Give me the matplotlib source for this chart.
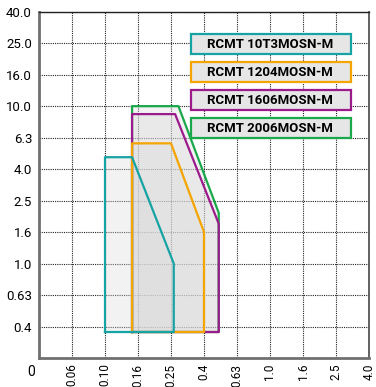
import numpy as np
import matplotlib
matplotlib.use("Agg")
import matplotlib.pyplot as plt
from matplotlib.patches import Rectangle

plt.rcParams['font.family'] = ['Roboto', 'DejaVu Sans']

# axis tick values (evenly spaced on the chart)
x_ticks = [0, 0.06, 0.10, 0.16, 0.25, 0.4, 0.63, 1.0, 1.6, 2.5, 4.0]
y_ticks = [0, 0.4, 0.63, 1.0, 1.6, 2.5, 4.0, 6.3, 10.0, 16.0, 25.0, 40.0]
x_labels = ["0.06", "0.10", "0.16", "0.25", "0.4", "0.63", "1.0", "1.6", "2.5", "4.0"]
y_labels = ["0.4", "0.63", "1.0", "1.6", "2.5", "4.0", "6.3", "10.0", "16.0", "25.0", "40.0"]

# application areas: feed f (x) vs depth ap (y)
names = ["RCMT 10T3MOSN-M", "RCMT 1204MOSN-M", "RCMT 1606MOSN-M", "RCMT 2006MOSN-M"]
colors = ["#16a3a3", "#f5a400", "#9b1b8c", "#19a84a"]
f_10T3 = [0.10, 0.10, 0.147, 0.26, 0.26]
ap_10T3 = [0.33, 4.75, 4.75, 1.0, 0.33]
f_1204 = [0.147, 0.147, 0.25, 0.40, 0.40]
ap_1204 = [0.33, 5.8, 5.8, 1.6, 0.33]
f_1606 = [0.147, 0.147, 0.265, 0.49, 0.49]
ap_1606 = [0.33, 8.9, 8.9, 1.8, 0.33]
f_2006 = [0.147, 0.147, 0.278, 0.49, 0.49]
ap_2006 = [0.33, 10.0, 10.0, 2.1, 0.33]


def make_scale(ticks):
    t = np.array(ticks[1:], float)
    lt = np.log(t)
    idx = np.arange(1, len(ticks), dtype=float)

    def fwd(v):
        v = np.asarray(v, float)
        lv = np.log(np.maximum(v, 1e-12))
        return np.where(v >= t[0], np.interp(lv, lt, idx), v / t[0])

    def inv(p):
        p = np.asarray(p, float)
        return np.where(p >= 1, np.exp(np.interp(p, idx, lt)), p * t[0])
    return fwd, inv


fig = plt.figure(figsize=(3.76, 3.87), dpi=100)
ax = fig.add_axes([39 / 376, 29 / 387, 330 / 376, 346.3 / 387])
ax.set_xscale('function', functions=make_scale(x_ticks))
ax.set_yscale('function', functions=make_scale(y_ticks))
ax.set_xlim(0, 4.0)
ax.set_ylim(0, 40.0)

ax.set_xticks(x_ticks[1:])
ax.set_xticklabels(x_labels, rotation=90, fontsize=8.5)
ax.set_yticks(y_ticks[1:])
ax.set_yticklabels(y_labels, fontsize=9.5)
ax.minorticks_off()
ax.tick_params(length=0)
ax.tick_params(axis='x', pad=4)
ax.tick_params(axis='y', pad=5)
ax.grid(True, color='#222222', linestyle=(0, (1, 1)), linewidth=0.8, zorder=0)
ax.set_axisbelow(True)

for s in ['left', 'bottom']:
    ax.spines[s].set_color('#707070')
    ax.spines[s].set_linewidth(2)
ax.spines['top'].set_color('#222222')
ax.spines['top'].set_linewidth(1)
ax.spines['right'].set_color('#555555')
ax.spines['right'].set_linewidth(1.3)

polys = [(f_10T3, ap_10T3), (f_1204, ap_1204), (f_1606, ap_1606), (f_2006, ap_2006)]
for i in [3, 2, 1, 0]:
    fx, ay = polys[i]
    ax.fill(fx, ay, facecolor='#dadada', alpha=0.35, edgecolor='none', zorder=2)
for i in [3, 2, 1, 0]:
    fx, ay = polys[i]
    ax.plot(fx + fx[:1], ay + ay[:1], color=colors[i], linewidth=1.6, zorder=3)

# origin label
fig.text(31 / 376, 1 - 372 / 387, "0", ha='center', va='center', fontsize=10)

# legend boxes
for i, name in enumerate(names):
    top = 33.5 + i * 28
    fig.patches.append(Rectangle((190.5 / 376, 1 - (top + 20.5) / 387), 160 / 376, 20.5 / 387,
                                 transform=fig.transFigure, facecolor='#e6e6e6',
                                 edgecolor=colors[i], linewidth=1.6, zorder=5))
    fig.text(270 / 376, 1 - (top + 10.5) / 387, name, ha='center', va='center',
             fontsize=9.5, fontweight='bold', zorder=6)

fig.savefig("out.png", dpi=100)
